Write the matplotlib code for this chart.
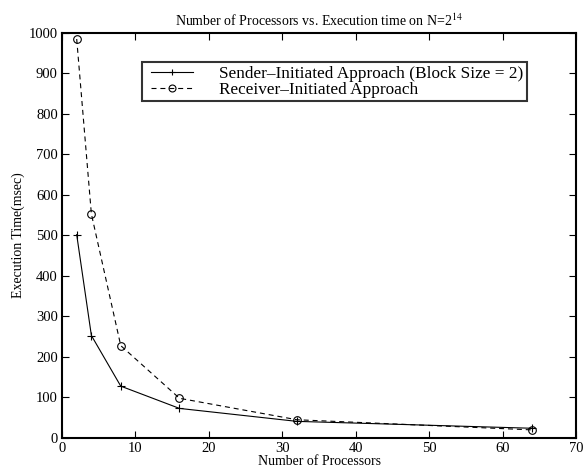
import matplotlib
matplotlib.use("Agg")
import matplotlib.pyplot as plt
from matplotlib.legend_handler import HandlerLine2D

processors = [2, 4, 8, 16, 32, 64]
sender_times = [502, 253, 128, 73, 41, 24]
receiver_times = [985, 553, 228, 98, 45, 20]
x_ticks = [0, 10, 20, 30, 40, 50, 60, 70]
y_ticks = [0, 100, 200, 300, 400, 500, 600, 700, 800, 900, 1000]

plt.rcParams['font.family'] = ['Liberation Serif', 'DejaVu Serif']
plt.rcParams['mathtext.fontset'] = 'stix'

fig = plt.figure(figsize=(5.85, 4.71), dpi=100)
ax = fig.add_axes([0.106, 0.0701, 0.8786, 0.860])

sender_line, = ax.plot(processors, sender_times, color='black', linestyle='-', linewidth=0.8,
                       marker='+', markersize=6, markeredgewidth=0.8,
                       label='Sender\u2013Initiated Approach (Block Size = 2)')
receiver_line, = ax.plot(processors, receiver_times, color='black', linestyle=(0, (4.5, 3.5)),
                         linewidth=0.8, marker='o', markersize=5.5, markerfacecolor='none',
                         markeredgewidth=0.8, label='Receiver\u2013Initiated Approach')

ax.set_xlim(0, 70)
ax.set_ylim(0, 1000)
ax.set_xticks(x_ticks)
ax.set_yticks(y_ticks)
ax.tick_params(direction='in', top=True, right=True, labelsize=10.5, length=5, width=0.8, pad=3)
for s in ax.spines.values():
    s.set_linewidth(1.5)

ax.set_title('Number of Processors vs. Execution time on N=2$^{14}$', fontsize=10, pad=5)
ax.set_xlabel('Number of Processors', fontsize=10, labelpad=0)
ax.set_ylabel('Execution Time(msec)', fontsize=10, labelpad=3)

handler = HandlerLine2D(xpad=0.35)
leg = ax.legend(loc='upper left', bbox_to_anchor=(0.1556, 0.928), fontsize=12.4,
                frameon=True, fancybox=False, borderpad=0.2, labelspacing=0.0,
                handlelength=2.75, handletextpad=1.55, borderaxespad=0,
                handler_map={sender_line: handler, receiver_line: handler})
leg.get_frame().set_edgecolor('black')
leg.get_frame().set_linewidth(1.5)
for h in leg.get_lines():
    h.set_markersize(5)

fig.savefig('out.png', dpi=100)
